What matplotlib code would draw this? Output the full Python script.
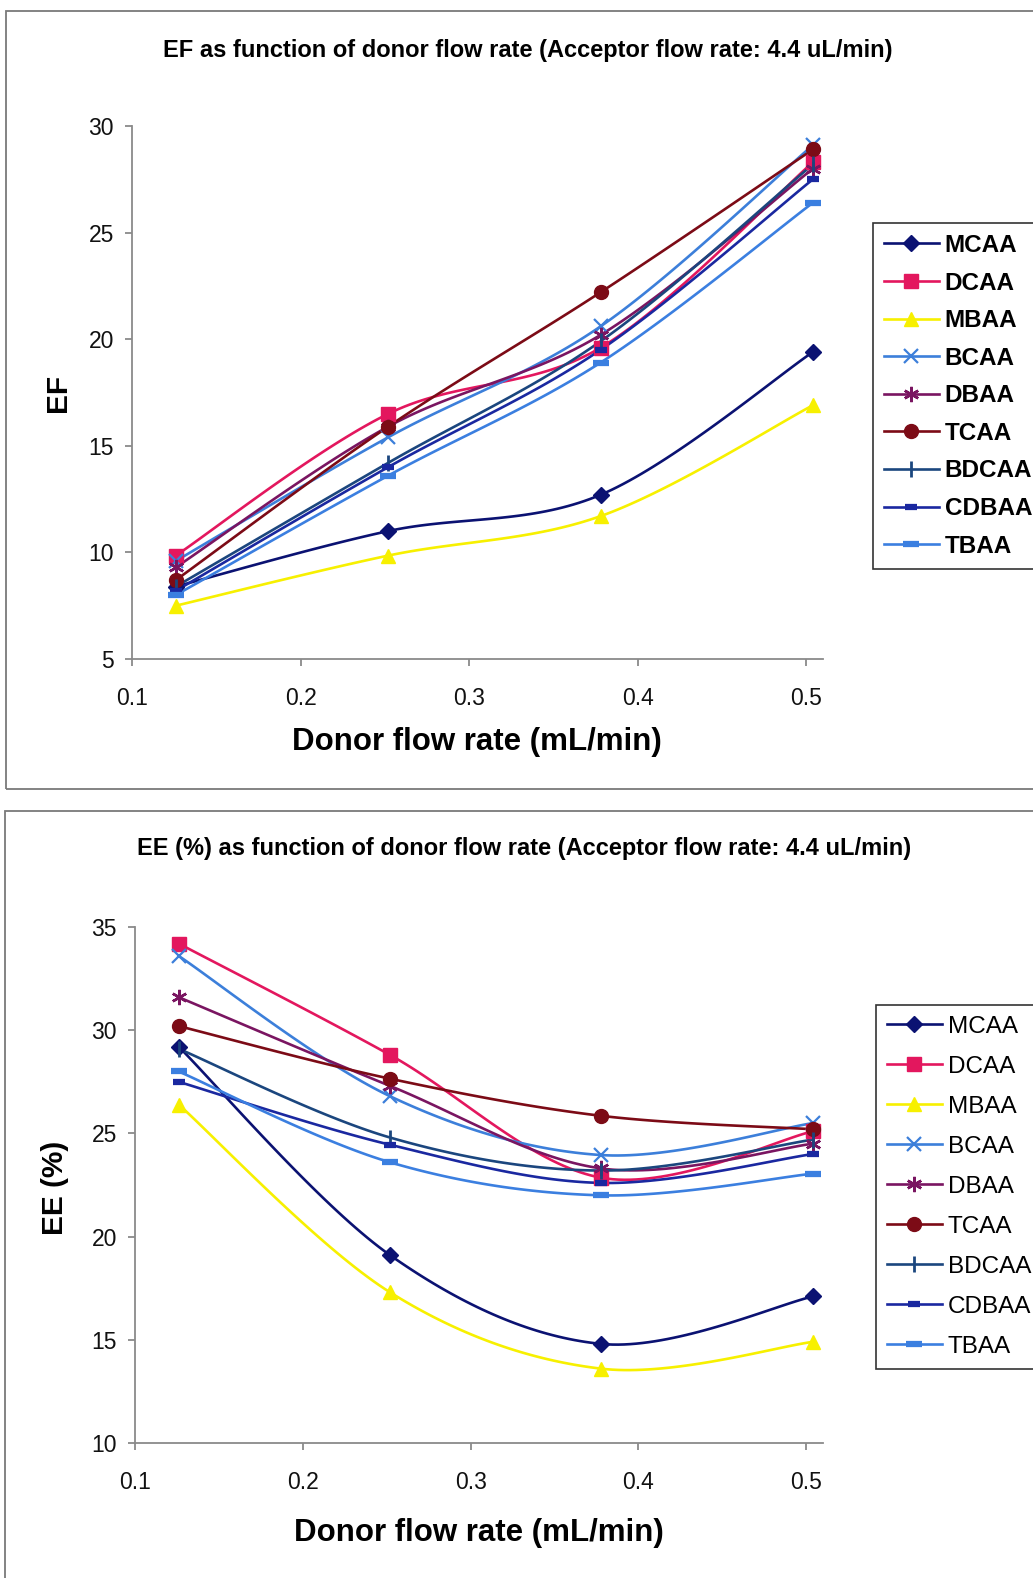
import matplotlib
matplotlib.use("Agg")
import matplotlib.pyplot as plt
import numpy as np
from matplotlib.lines import Line2D
from matplotlib.patches import Rectangle

plt.rcParams["font.family"] = ["Liberation Sans", "DejaVu Sans"]

W, H = 1033, 1578

# donor flow rates (mL/min)
flow = [0.126, 0.252, 0.378, 0.504]

series = ["MCAA", "DCAA", "MBAA", "BCAA", "DBAA", "TCAA", "BDCAA", "CDBAA", "TBAA"]

ef_mcaa = [8.4, 11.0, 12.7, 19.4]
ef_dcaa = [9.85, 16.5, 19.6, 28.3]
ef_mbaa = [7.5, 9.85, 11.7, 16.9]
ef_bcaa = [9.6, 15.4, 20.6, 29.1]
ef_dbaa = [9.3, 15.9, 20.2, 28.0]
ef_tcaa = [8.7, 15.9, 22.2, 28.9]
ef_bdcaa = [8.4, 14.2, 19.9, 28.2]
ef_cdbaa = [8.2, 14.0, 19.5, 27.5]
ef_tbaa = [8.0, 13.6, 18.9, 26.4]

ee_mcaa = [29.2, 19.1, 14.8, 17.1]
ee_dcaa = [34.2, 28.8, 22.85, 25.1]
ee_mbaa = [26.4, 17.3, 13.6, 14.9]
ee_bcaa = [33.6, 26.8, 23.95, 25.5]
ee_dbaa = [31.6, 27.3, 23.3, 24.5]
ee_tcaa = [30.2, 27.65, 25.85, 25.2]
ee_bdcaa = [29.1, 24.8, 23.2, 24.7]
ee_cdbaa = [27.5, 24.45, 22.6, 24.0]
ee_tbaa = [28.0, 23.6, 22.0, 23.05]

ef_values = [ef_mcaa, ef_dcaa, ef_mbaa, ef_bcaa, ef_dbaa, ef_tcaa, ef_bdcaa, ef_cdbaa, ef_tbaa]
ee_values = [ee_mcaa, ee_dcaa, ee_mbaa, ee_bcaa, ee_dbaa, ee_tcaa, ee_bdcaa, ee_cdbaa, ee_tbaa]

styles = {
    "MCAA": dict(color="#0B1272", marker="D", ms=8.5, mew=1),
    "DCAA": dict(color="#E3175E", marker="s", ms=10, mew=1),
    "MBAA": dict(color="#F7F000", marker="^", ms=10, mew=1),
    "BCAA": dict(color="#3C7FDA", marker="x", ms=10, mew=1.6),
    "DBAA": dict(color="#7A1561", marker=(6, 2, 0), ms=11, mew=1.8),
    "TCAA": dict(color="#7C0B16", marker="o", ms=10, mew=1),
    "BDCAA": dict(color="#1B467E", marker="|", ms=12, mew=2),
    "CDBAA": dict(color="#1A28A0", marker="_", ms=8, mew=4.5),
    "TBAA": dict(color="#3B7FE0", marker="_", ms=11, mew=4.5),
}


def smooth(x, y, n=40):
    # Excel-like smoothed line (uniform Catmull-Rom through the points)
    pts = np.column_stack([x, y]).astype(float)
    P = np.vstack([pts[0], pts, pts[-1]])
    t = np.linspace(0, 1, n)[:, None]
    out = []
    for i in range(len(pts) - 1):
        p0, p1, p2, p3 = P[i], P[i + 1], P[i + 2], P[i + 3]
        seg = 0.5 * ((2 * p1) + (-p0 + p2) * t + (2 * p0 - 5 * p1 + 4 * p2 - p3) * t ** 2
                     + (-p0 + 3 * p1 - 3 * p2 + p3) * t ** 3)
        out.append(seg if i == 0 else seg[1:])
    out = np.vstack(out)
    return out[:, 0], out[:, 1]


def frame(x0, y0, x1, y1):
    fig.add_artist(Rectangle((x0 / W, 1 - y1 / H), (x1 - x0) / W, (y1 - y0) / H,
                             transform=fig.transFigure, fill=False,
                             edgecolor="#7a7a7a", linewidth=1.3))


def panel(rect, values, ylim, yticks, ylabel, ylab_xy, xlab_xy, leg_xy, leg_space, leg_weight):
    l, t, r, b = rect
    ax = fig.add_axes([l / W, 1 - b / H, (r - l) / W, (b - t) / H])
    handles = []
    for name, vals in zip(series, values):
        st = styles[name]
        xs, ys = smooth(flow, vals)
        ax.plot(xs, ys, color=st["color"], lw=1.9, zorder=2, clip_on=False)
        ax.plot(flow, vals, ls="none", marker=st["marker"], ms=st["ms"],
                mew=st["mew"], color=st["color"], mec=st["color"], zorder=3, clip_on=False)
        handles.append(Line2D([], [], color=st["color"], lw=1.9, marker=st["marker"],
                              ms=st["ms"], mew=st["mew"], mec=st["color"]))
    ax.set_xlim(0.1, 0.51)
    ax.set_ylim(*ylim)
    ax.set_xticks([0.1, 0.2, 0.3, 0.4, 0.5])
    ax.set_xticklabels(["0.1", "0.2", "0.3", "0.4", "0.5"])
    ax.set_yticks(yticks)
    for s in ["top", "right"]:
        ax.spines[s].set_visible(False)
    for s in ["left", "bottom"]:
        ax.spines[s].set_color("#8a8a8a")
        ax.spines[s].set_linewidth(1.3)
    ax.tick_params(axis="both", direction="out", length=5, width=1.3, color="#8a8a8a",
                   labelsize=16.5, labelcolor="#111111")
    ax.tick_params(axis="x", pad=15)
    ax.tick_params(axis="y", pad=8)
    ax.set_xlabel("Donor flow rate (mL/min)", fontsize=22.5, fontweight="bold")
    ax.xaxis.set_label_coords((xlab_xy[0] - l) / (r - l), (b - xlab_xy[1]) / (b - t))
    ax.xaxis.label.set_va("center")
    ax.set_ylabel(ylabel, fontsize=21.5, fontweight="bold")
    ax.yaxis.set_label_coords((ylab_xy[0] - l) / (r - l), (b - ylab_xy[1]) / (b - t))
    ax.yaxis.label.set_va("center")
    leg = fig.legend(handles, series, loc="upper left",
                     bbox_to_anchor=(leg_xy[0] / W, 1 - leg_xy[1] / H),
                     bbox_transform=fig.transFigure, frameon=True, fancybox=False,
                     edgecolor="#333333", framealpha=1, numpoints=1,
                     prop=dict(size=17.5, weight=leg_weight), handlelength=2.25,
                     handletextpad=0.25, labelspacing=leg_space, borderpad=0.45,
                     borderaxespad=0)
    leg.get_frame().set_linewidth(1.2)
    return ax


fig = plt.figure(figsize=(W / 100, H / 100), dpi=100)

frame(6, 11, 1040, 789)
frame(5, 811, 1040, 1590)

fig.text(528 / W, 1 - 50 / H, "EF as function of donor flow rate (Acceptor flow rate: 4.4 uL/min)",
         ha="center", va="center", fontsize=17, fontweight="bold")
fig.text(524 / W, 1 - 849 / H, "EE (%) as function of donor flow rate (Acceptor flow rate: 4.4 uL/min)",
         ha="center", va="center", fontsize=17, fontweight="bold")

panel((132, 126, 823, 659), ef_values, (5, 30), [5, 10, 15, 20, 25, 30], "EF",
      (58, 393), (477, 742), (873, 223), 0.6, "bold")
panel((135, 927, 823, 1443), ee_values, (10, 35), [10, 15, 20, 25, 30, 35], "EE (%)",
      (55, 1188), (479, 1533), (876, 1005), 0.74, "normal")

fig.savefig("out.png", dpi=100, facecolor="white")
